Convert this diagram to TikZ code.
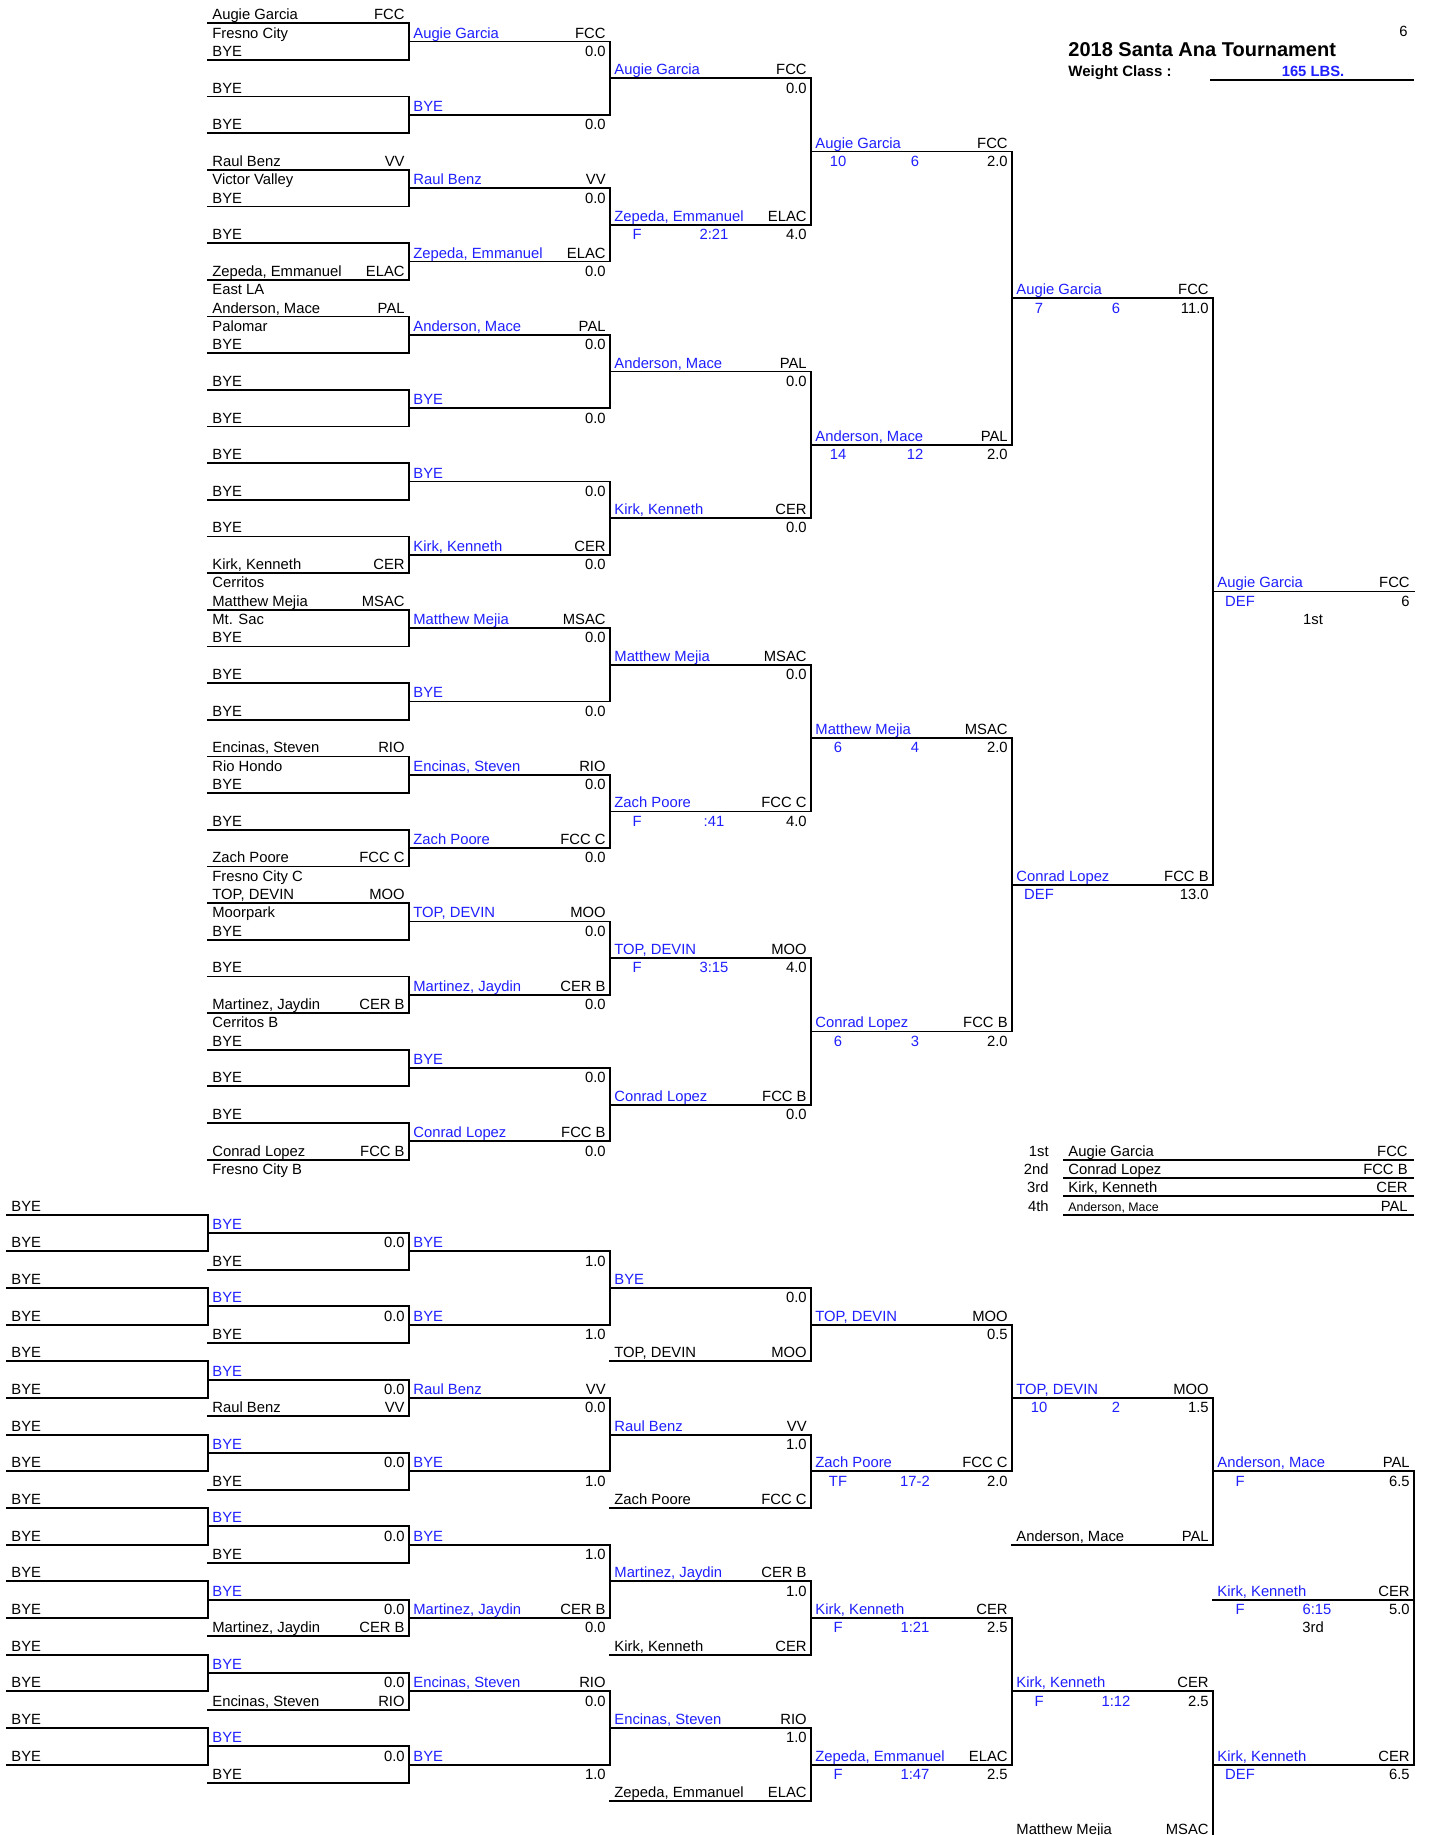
\documentclass[tikz,border=0pt]{standalone}
\usepackage{fontspec}
\setmainfont{Liberation Sans}
\usepackage{tikz}
\definecolor{winblue}{HTML}{1E1EFF}

% one bracket line: style, column, row, name, team
\newcommand{\bslot}[5]{%
  \draw[bline] ({7+201*#2},{#3+1}) -- ({208+201*#2},{#3+1});
  \node[#1, anchor=base west] (n#2-#3) at ({11+201*#2},{#3+0.81}) {#4};
  \node[txt, anchor=base east] (t#2-#3) at ({204+201*#2},{#3+0.81}) {#5};}
\newcommand{\bnote}[3]{\node[txt, anchor=base west] (c#1-#2) at ({11+201*#1},{#2+0.81}) {#3};}
\newcommand{\bscore}[3]{\node[txt, anchor=base east] (v#1-#2) at ({204+201*#1},{#2+0.81}) {#3};}
\newcommand{\bbout}[4]{%
  \node[wintxt, anchor=base] (a#1-#2) at ({34+201*#1},{#2+0.81}) {#3};
  \node[wintxt, anchor=base] (b#1-#2) at ({111+201*#1},{#2+0.81}) {#4};}
\newcommand{\bjoin}[3]{\draw[bline] ({208+201*#1},{#2+1}) -- ({208+201*#1},{#3+1});}

\begin{document}
\begin{tikzpicture}[x=0.5pt, y=-9.165pt,
    txt/.style={inner sep=0pt, font=\fontsize{7.4}{8}\selectfont},
    wintxt/.style={txt, text=winblue},
    bline/.style={line width=0.9pt, line cap=rect},
]
\useasboundingbox (0,-0.267) rectangle (1430,99.84);
\clip (0,-0.267) rectangle (1430,99.84);

% Header
\node[txt, anchor=base east] (page) at (1408,1.75) {6};
\node[inner sep=0pt, font=\fontsize{10}{12}\selectfont\bfseries, anchor=base west] (title) at (1068,2.79) {2018 Santa Ana Tournament};
\node[txt, font=\fontsize{7.5}{9}\selectfont\bfseries, anchor=base west] (wclass) at (1068,3.92) {Weight Class :};
\node[wintxt, font=\fontsize{7.4}{9}\selectfont\bfseries, anchor=base] (lbs) at (1313,3.92) {165 LBS.};
\draw[bline] (1211,4.1) -- (1413,4.1);

% Championship: first column
\bslot{txt}{1}{0}{Augie Garcia}{FCC}
\bnote{1}{1}{Fresno City}
\bslot{txt}{1}{2}{BYE}{}
\bslot{txt}{1}{4}{BYE}{}
\bslot{txt}{1}{6}{BYE}{}
\bslot{txt}{1}{8}{Raul Benz}{VV}
\bnote{1}{9}{Victor Valley}
\bslot{txt}{1}{10}{BYE}{}
\bslot{txt}{1}{12}{BYE}{}
\bslot{txt}{1}{14}{Zepeda, Emmanuel}{ELAC}
\bnote{1}{15}{East LA}
\bslot{txt}{1}{16}{Anderson, Mace}{PAL}
\bnote{1}{17}{Palomar}
\bslot{txt}{1}{18}{BYE}{}
\foreach \r in {20,22,...,28} {\bslot{txt}{1}{\r}{BYE}{}}
\bslot{txt}{1}{30}{Kirk, Kenneth}{CER}
\bnote{1}{31}{Cerritos}
\bslot{txt}{1}{32}{Matthew Mejia}{MSAC}
\bnote{1}{33}{Mt. Sac}
\foreach \r in {34,36,38} {\bslot{txt}{1}{\r}{BYE}{}}
\bslot{txt}{1}{40}{Encinas, Steven}{RIO}
\bnote{1}{41}{Rio Hondo}
\bslot{txt}{1}{42}{BYE}{}
\bslot{txt}{1}{44}{BYE}{}
\bslot{txt}{1}{46}{Zach Poore}{FCC C}
\bnote{1}{47}{Fresno City C}
\bslot{txt}{1}{48}{TOP, DEVIN}{MOO}
\bnote{1}{49}{Moorpark}
\bslot{txt}{1}{50}{BYE}{}
\bslot{txt}{1}{52}{BYE}{}
\bslot{txt}{1}{54}{Martinez, Jaydin}{CER B}
\bnote{1}{55}{Cerritos B}
\foreach \r in {56,58,60} {\bslot{txt}{1}{\r}{BYE}{}}
\bslot{txt}{1}{62}{Conrad Lopez}{FCC B}
\bnote{1}{63}{Fresno City B}
\foreach \r in {0,4,...,60} {\bjoin{1}{\r}{\r+2}}

% Championship: second column
\bslot{wintxt}{2}{1}{Augie Garcia}{FCC}
\bslot{wintxt}{2}{5}{BYE}{}
\bslot{wintxt}{2}{9}{Raul Benz}{VV}
\bslot{wintxt}{2}{13}{Zepeda, Emmanuel}{ELAC}
\bslot{wintxt}{2}{17}{Anderson, Mace}{PAL}
\bslot{wintxt}{2}{21}{BYE}{}
\bslot{wintxt}{2}{25}{BYE}{}
\bslot{wintxt}{2}{29}{Kirk, Kenneth}{CER}
\bslot{wintxt}{2}{33}{Matthew Mejia}{MSAC}
\bslot{wintxt}{2}{37}{BYE}{}
\bslot{wintxt}{2}{41}{Encinas, Steven}{RIO}
\bslot{wintxt}{2}{45}{Zach Poore}{FCC C}
\bslot{wintxt}{2}{49}{TOP, DEVIN}{MOO}
\bslot{wintxt}{2}{53}{Martinez, Jaydin}{CER B}
\bslot{wintxt}{2}{57}{BYE}{}
\bslot{wintxt}{2}{61}{Conrad Lopez}{FCC B}
\foreach \r in {2,6,...,62} {\bscore{2}{\r}{0.0}}
\foreach \r in {1,9,...,57} {\bjoin{2}{\r}{\r+4}}

% Championship: quarter finals
\bslot{wintxt}{3}{3}{Augie Garcia}{FCC} \bscore{3}{4}{0.0}
\bslot{wintxt}{3}{11}{Zepeda, Emmanuel}{ELAC} \bbout{3}{12}{F}{2:21} \bscore{3}{12}{4.0}
\bslot{wintxt}{3}{19}{Anderson, Mace}{PAL} \bscore{3}{20}{0.0}
\bslot{wintxt}{3}{27}{Kirk, Kenneth}{CER} \bscore{3}{28}{0.0}
\bslot{wintxt}{3}{35}{Matthew Mejia}{MSAC} \bscore{3}{36}{0.0}
\bslot{wintxt}{3}{43}{Zach Poore}{FCC C} \bbout{3}{44}{F}{:41} \bscore{3}{44}{4.0}
\bslot{wintxt}{3}{51}{TOP, DEVIN}{MOO} \bbout{3}{52}{F}{3:15} \bscore{3}{52}{4.0}
\bslot{wintxt}{3}{59}{Conrad Lopez}{FCC B} \bscore{3}{60}{0.0}
\foreach \r in {3,19,35,51} {\bjoin{3}{\r}{\r+8}}

% Championship: semi finals
\bslot{wintxt}{4}{7}{Augie Garcia}{FCC} \bbout{4}{8}{10}{6} \bscore{4}{8}{2.0}
\bslot{wintxt}{4}{23}{Anderson, Mace}{PAL} \bbout{4}{24}{14}{12} \bscore{4}{24}{2.0}
\bslot{wintxt}{4}{39}{Matthew Mejia}{MSAC} \bbout{4}{40}{6}{4} \bscore{4}{40}{2.0}
\bslot{wintxt}{4}{55}{Conrad Lopez}{FCC B} \bbout{4}{56}{6}{3} \bscore{4}{56}{2.0}
\bjoin{4}{7}{23}
\bjoin{4}{39}{55}

% Championship: final and winner
\bslot{wintxt}{5}{15}{Augie Garcia}{FCC} \bbout{5}{16}{7}{6} \bscore{5}{16}{11.0}
\bslot{wintxt}{5}{47}{Conrad Lopez}{FCC B} \bbout{5}{48}{DEF}{} \bscore{5}{48}{13.0}
\bjoin{5}{15}{47}
\bslot{wintxt}{6}{31}{Augie Garcia}{FCC} \bbout{6}{32}{DEF}{} \bscore{6}{32}{6}
\node[txt, anchor=base] (first) at (1313,33.81) {1st};

% Placings
\foreach \r in {62,...,65} {\draw[bline] (1064,\r+1) -- (1413,\r+1);}
\node[txt, anchor=base east] (p1) at (1049,62.81) {1st};
\node[txt, anchor=base west] (p1n) at (1068,62.81) {Augie Garcia};
\node[txt, anchor=base east] (p1t) at (1408,62.81) {FCC};
\node[txt, anchor=base east] (p2) at (1049,63.81) {2nd};
\node[txt, anchor=base west] (p2n) at (1068,63.81) {Conrad Lopez};
\node[txt, anchor=base east] (p2t) at (1408,63.81) {FCC B};
\node[txt, anchor=base east] (p3) at (1049,64.81) {3rd};
\node[txt, anchor=base west] (p3n) at (1068,64.81) {Kirk, Kenneth};
\node[txt, anchor=base east] (p3t) at (1408,64.81) {CER};
\node[txt, anchor=base east] (p4) at (1049,65.81) {4th};
\node[txt, font=\fontsize{6.2}{7}\selectfont, anchor=base west] (p4n) at (1068,65.81) {Anderson, Mace};
\node[txt, anchor=base east] (p4t) at (1408,65.81) {PAL};

% Consolation: first two columns
\foreach \r in {65,67,...,95} {\bslot{txt}{0}{\r}{BYE}{}}
\foreach \r in {65,69,...,93} {\bjoin{0}{\r}{\r+2}}
\foreach \r in {66,70,...,94} {\bslot{wintxt}{1}{\r}{BYE}{}}
\foreach \r in {67,71,...,95} {\bscore{1}{\r}{0.0}}
\bslot{txt}{1}{68}{BYE}{}
\bslot{txt}{1}{72}{BYE}{}
\bslot{txt}{1}{76}{Raul Benz}{VV}
\bslot{txt}{1}{80}{BYE}{}
\bslot{txt}{1}{84}{BYE}{}
\bslot{txt}{1}{88}{Martinez, Jaydin}{CER B}
\bslot{txt}{1}{92}{Encinas, Steven}{RIO}
\bslot{txt}{1}{96}{BYE}{}
\foreach \r in {66,70,...,94} {\bjoin{1}{\r}{\r+2}}

% Consolation: third column
\bslot{wintxt}{2}{67}{BYE}{} \bscore{2}{68}{1.0}
\bslot{wintxt}{2}{71}{BYE}{} \bscore{2}{72}{1.0}
\bslot{wintxt}{2}{75}{Raul Benz}{VV} \bscore{2}{76}{0.0}
\bslot{wintxt}{2}{79}{BYE}{} \bscore{2}{80}{1.0}
\bslot{wintxt}{2}{83}{BYE}{} \bscore{2}{84}{1.0}
\bslot{wintxt}{2}{87}{Martinez, Jaydin}{CER B} \bscore{2}{88}{0.0}
\bslot{wintxt}{2}{91}{Encinas, Steven}{RIO} \bscore{2}{92}{0.0}
\bslot{wintxt}{2}{95}{BYE}{} \bscore{2}{96}{1.0}
\foreach \r in {67,75,83,91} {\bjoin{2}{\r}{\r+4}}

% Consolation: drop-ins from the championship side
\bslot{wintxt}{3}{69}{BYE}{} \bscore{3}{70}{0.0}
\bslot{txt}{3}{73}{TOP, DEVIN}{MOO}
\bslot{wintxt}{3}{77}{Raul Benz}{VV} \bscore{3}{78}{1.0}
\bslot{txt}{3}{81}{Zach Poore}{FCC C}
\bslot{wintxt}{3}{85}{Martinez, Jaydin}{CER B} \bscore{3}{86}{1.0}
\bslot{txt}{3}{89}{Kirk, Kenneth}{CER}
\bslot{wintxt}{3}{93}{Encinas, Steven}{RIO} \bscore{3}{94}{1.0}
\bslot{txt}{3}{97}{Zepeda, Emmanuel}{ELAC}
\foreach \r in {69,77,85,93} {\bjoin{3}{\r}{\r+4}}

\bslot{wintxt}{4}{71}{TOP, DEVIN}{MOO} \bscore{4}{72}{0.5}
\bslot{wintxt}{4}{79}{Zach Poore}{FCC C} \bbout{4}{80}{TF}{17-2} \bscore{4}{80}{2.0}
\bslot{wintxt}{4}{87}{Kirk, Kenneth}{CER} \bbout{4}{88}{F}{1:21} \bscore{4}{88}{2.5}
\bslot{wintxt}{4}{95}{Zepeda, Emmanuel}{ELAC} \bbout{4}{96}{F}{1:47} \bscore{4}{96}{2.5}
\bjoin{4}{71}{79}
\bjoin{4}{87}{95}

\bslot{wintxt}{5}{75}{TOP, DEVIN}{MOO} \bbout{5}{76}{10}{2} \bscore{5}{76}{1.5}
\bslot{txt}{5}{83}{Anderson, Mace}{PAL}
\bslot{wintxt}{5}{91}{Kirk, Kenneth}{CER} \bbout{5}{92}{F}{1:12} \bscore{5}{92}{2.5}
\bslot{txt}{5}{99}{Matthew Mejia}{MSAC}
\bjoin{5}{75}{83}
\bjoin{5}{91}{99}

% Consolation: third place
\bslot{wintxt}{6}{79}{Anderson, Mace}{PAL} \bbout{6}{80}{F}{} \bscore{6}{80}{6.5}
\bslot{wintxt}{6}{86}{Kirk, Kenneth}{CER} \bbout{6}{87}{F}{6:15} \bscore{6}{87}{5.0}
\node[txt, anchor=base] (third) at (1313,88.81) {3rd};
\bslot{wintxt}{6}{95}{Kirk, Kenneth}{CER} \bbout{6}{96}{DEF}{} \bscore{6}{96}{6.5}
\bjoin{6}{79}{95}

\end{tikzpicture}
\end{document}
